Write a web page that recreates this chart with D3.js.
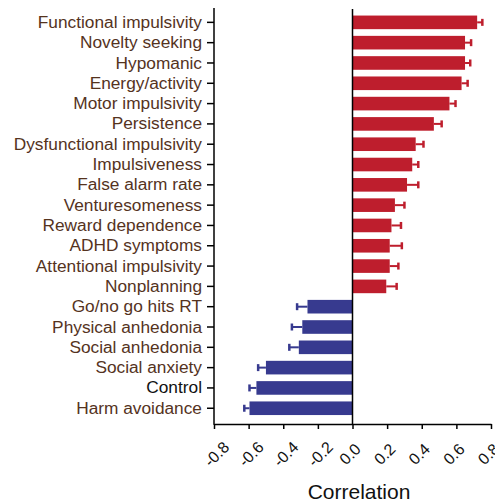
<!DOCTYPE html>
<html>
<head>
<meta charset="utf-8">
<script src="https://cdn.jsdelivr.net/npm/d3@7"></script>
<style>
  html, body { margin: 0; padding: 0; background: #fff; }
  svg { display: block; }
  text { font-family: "Liberation Sans", Arial, Helvetica, sans-serif; }
</style>
</head>
<body>
<svg id="chart" width="495" height="504"></svg>
<script>
// Correlation of each measure, with its error
const categories = [
  "Functional impulsivity", "Novelty seeking", "Hypomanic", "Energy/activity",
  "Motor impulsivity", "Persistence", "Dysfunctional impulsivity", "Impulsiveness",
  "False alarm rate", "Venturesomeness", "Reward dependence", "ADHD symptoms",
  "Attentional impulsivity", "Nonplanning", "Go/no go hits RT", "Physical anhedonia",
  "Social anhedonia", "Social anxiety", "Control", "Harm avoidance"
];
const correlations = [
  0.72, 0.65, 0.65, 0.63,
  0.56, 0.47, 0.365, 0.345,
  0.315, 0.245, 0.225, 0.215,
  0.215, 0.195, -0.26, -0.29,
  -0.31, -0.50, -0.555, -0.595
];
const errors = [
  0.03, 0.035, 0.03, 0.035,
  0.035, 0.045, 0.045, 0.035,
  0.065, 0.055, 0.055, 0.07,
  0.05, 0.06, 0.06, 0.06,
  0.055, 0.045, 0.04, 0.03
];
const xTicks = [-0.8, -0.6, -0.4, -0.2, 0.0, 0.2, 0.4, 0.6, 0.8];
const xTitle = "Correlation";

const rows = categories.map((c, i) => ({ name: c, r: correlations[i], e: errors[i] }));

const svg = d3.select("#chart");
const posColor = "#be1e2d";
const negColor = "#373a8f";
const labelColor = "#55331e";

const x = d3.scaleLinear().domain([-0.8, 0.8]).range([214, 491]);
const y = d3.scaleBand()
  .domain(categories)
  .range([12.2, 418.4])
  .paddingInner(0.33)
  .paddingOuter(0.165);

const axisY = 424;

// bars
svg.append("g").selectAll("rect")
  .data(rows)
  .join("rect")
  .attr("x", d => Math.min(x(0), x(d.r)))
  .attr("y", d => y(d.name))
  .attr("width", d => Math.abs(x(d.r) - x(0)))
  .attr("height", y.bandwidth())
  .attr("fill", d => d.r >= 0 ? posColor : negColor);

// error bars, drawn outward from each bar end
const eb = svg.append("g").selectAll("g")
  .data(rows)
  .join("g")
  .attr("stroke", d => d.r >= 0 ? posColor : negColor);
eb.append("line")
  .attr("x1", d => x(d.r))
  .attr("x2", d => x(d.r + Math.sign(d.r) * d.e))
  .attr("y1", d => y(d.name) + y.bandwidth() / 2)
  .attr("y2", d => y(d.name) + y.bandwidth() / 2)
  .attr("stroke-width", 2);
eb.append("line")
  .attr("x1", d => x(d.r + Math.sign(d.r) * d.e))
  .attr("x2", d => x(d.r + Math.sign(d.r) * d.e))
  .attr("y1", d => y(d.name) + y.bandwidth() / 2 - 3.5)
  .attr("y2", d => y(d.name) + y.bandwidth() / 2 + 3.5)
  .attr("stroke-width", 2.5);

// zero line
svg.append("line")
  .attr("x1", x(0)).attr("x2", x(0))
  .attr("y1", 9).attr("y2", axisY)
  .attr("stroke", "#000").attr("stroke-width", 1.5);

// category axis
const yAxis = svg.append("g")
  .attr("transform", `translate(${x(-0.8)},0)`)
  .call(d3.axisLeft(y).tickSize(7).tickSizeOuter(0).tickPadding(5));
yAxis.select(".domain").remove();
yAxis.selectAll(".tick line").attr("stroke", "#000").attr("stroke-width", 1.5);
yAxis.selectAll(".tick text")
  .attr("font-size", "17.3px")
  .attr("fill", d => d === "Control" ? "#111" : labelColor)
  .style("font-family", '"Liberation Sans", Arial, sans-serif');
svg.append("line")
  .attr("x1", x(-0.8)).attr("x2", x(-0.8))
  .attr("y1", 8).attr("y2", axisY + 0.75)
  .attr("stroke", "#000").attr("stroke-width", 1.5);

// correlation axis
const xAxis = svg.append("g")
  .attr("transform", `translate(0,${axisY})`)
  .call(d3.axisBottom(x).tickValues(xTicks).tickSize(5).tickSizeOuter(0)
    .tickFormat(v => d3.format(".1f")(v).replace("\u2212", "-")));
xAxis.select(".domain").attr("stroke", "#000").attr("stroke-width", 1.5);
xAxis.selectAll(".tick line").attr("stroke", "#000").attr("stroke-width", 1.5);
xAxis.selectAll(".tick text")
  .attr("font-size", "16px")
  .attr("fill", "#111")
  .style("font-family", '"Liberation Sans", Arial, sans-serif')
  .attr("text-anchor", "middle")
  .attr("dy", "0.35em")
  .attr("y", 0)
  .attr("transform", v => `translate(${v < 0 ? 2 : -3},30) rotate(-45)`);

svg.append("text")
  .attr("x", 359)
  .attr("y", 499)
  .attr("text-anchor", "middle")
  .attr("font-size", "21px")
  .attr("fill", "#111")
  .text(xTitle);
</script>
</body>
</html>
